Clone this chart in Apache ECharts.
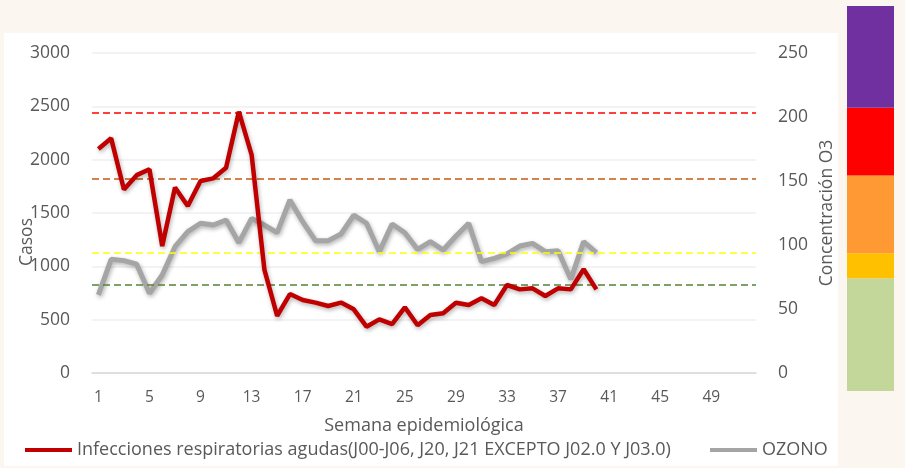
<!DOCTYPE html>
<html>
<head>
<meta charset="utf-8">
<script src="https://cdn.jsdelivr.net/npm/echarts@6/dist/echarts.min.js"></script>
<style>
html,body{margin:0;padding:0;background:#fbf7f0;}
#c{width:905px;height:468px;}
</style>
</head>
<body>
<div id="c"></div>
<script>
// ---- data ----
var weekLabels = ['1','2','3','4','5','6','7','8','9','10','11','12','13','14','15','16','17','18','19','20','21','22','23','24','25','26','27','28','29','30','31','32','33','34','35','36','37','38','39','40','41','42','43','44','45','46','47','48','49','50','51','52'];
var iraName = 'Infecciones respiratorias agudas(J00-J06, J20, J21 EXCEPTO J02.0 Y J03.0)';
var ozoneName = 'OZONO';
var iraCases = [2100, 2200, 1720, 1855, 1910, 1190, 1740, 1565, 1800, 1825, 1925, 2450, 2045, 970, 535, 740, 685, 660, 628, 660, 597, 434, 503, 459, 616, 447, 544, 560, 659, 637, 700, 637, 825, 784, 794, 722, 794, 784, 972, 784];
var ozone = [61, 88.8, 87.8, 85, 62.3, 76.6, 98.7, 110.4, 117, 115.6, 119.5, 101.8, 120.8, 115.6, 109.6, 135.2, 118.2, 103.4, 103.4, 108.6, 123.4, 117, 94.8, 116.4, 109.6, 96.5, 102.6, 96.1, 107, 117, 87, 89.6, 93, 99.2, 101.3, 94.8, 95.5, 73.2, 102.6, 94];
var thresholds = [69, 94, 152, 203];
var thresholdColors = ['#548235', '#ffff00', '#c55a11', '#ff0000'];
var leftTicks = {min: 0, max: 3000, interval: 500};
var rightTicks = {min: 0, max: 250, interval: 50};
var bandNames = ['verde', 'amarillo', 'naranja', 'rojo', 'morado'];
var bandSizes = [113, 25, 78, 68, 102];
var bandColors = ['#c4d79b', '#ffc000', '#ff9933', '#ff0000', '#7030a0'];

var FONT = 'Open Sans';
var TXT = '#595959';

var chart = echarts.init(document.getElementById('c'), null, {renderer: 'canvas'});

var markData = thresholds.map(function (v, i) {
  return {yAxis: v, lineStyle: {color: thresholdColors[i], type: [7, 4], width: 1.5}};
});

var bandSeries = bandSizes.map(function (v, i) {
  return {
    name: bandNames[i], type: 'bar', stack: 'band', xAxisIndex: 1, yAxisIndex: 2,
    data: [v], barWidth: '100%', itemStyle: {color: bandColors[i]}, silent: true
  };
});

function plain(v) { return String(v); }

var option = {
  backgroundColor: '#fbf7f0',
  animation: false,
  textStyle: {fontFamily: FONT},
  graphic: [{
    type: 'rect', z: -10, silent: true,
    shape: {x: 4, y: 33, width: 834, height: 433},
    style: {fill: '#ffffff'}
  }],
  grid: [
    {left: 92, right: 149, top: 53, bottom: 95},
    {left: 847, width: 47, top: 6, height: 385}
  ],
  legend: [
    {
      data: [iraName], left: 25, top: 441, padding: 0, itemWidth: 47, itemHeight: 4,
      icon: 'rect', textStyle: {color: TXT, fontSize: 18, fontFamily: FONT}
    },
    {
      data: [ozoneName], left: 710, top: 441, padding: 0, itemWidth: 47, itemHeight: 4,
      icon: 'rect', textStyle: {color: TXT, fontSize: 18, fontFamily: FONT}
    }
  ],
  xAxis: [
    {
      type: 'category', data: weekLabels, gridIndex: 0, boundaryGap: true,
      axisTick: {show: false},
      axisLine: {lineStyle: {color: '#d9d9d9', width: 1.5}},
      axisLabel: {interval: 3, color: TXT, fontSize: 15.5, margin: 17},
      name: 'Semana epidemiológica', nameLocation: 'middle', nameGap: 44,
      nameTextStyle: {color: TXT, fontSize: 18}
    },
    {type: 'category', data: ['escala'], gridIndex: 1, show: false}
  ],
  yAxis: [
    {
      type: 'value', gridIndex: 0, min: leftTicks.min, max: leftTicks.max, interval: leftTicks.interval,
      axisLine: {show: false}, axisTick: {show: false},
      axisLabel: {color: TXT, fontSize: 17.5, margin: 22, formatter: plain},
      splitLine: {lineStyle: {color: '#efefef', width: 1.5}},
      name: 'Casos', nameLocation: 'middle', nameGap: 56, nameMoveOverlap: false,
      nameTextStyle: {color: TXT, fontSize: 17.5, padding: [0, 58, 0, 0]}
    },
    {
      type: 'value', gridIndex: 0, min: rightTicks.min, max: rightTicks.max, interval: rightTicks.interval,
      position: 'right',
      axisLine: {show: false}, axisTick: {show: false},
      axisLabel: {color: TXT, fontSize: 17.5, margin: 22, formatter: plain},
      splitLine: {show: false},
      name: 'Concentración O3', nameLocation: 'middle', nameGap: 62, nameMoveOverlap: false,
      nameTextStyle: {color: TXT, fontSize: 17.5}
    },
    {type: 'value', gridIndex: 1, show: false, min: 0, max: bandSizes.reduce(function (a, b) { return a + b; }, 0)}
  ],
  series: [
    {
      name: ozoneName, type: 'line', xAxisIndex: 0, yAxisIndex: 1, data: ozone,
      showSymbol: false, symbol: 'none', color: '#a5a5a5',
      lineStyle: {color: '#a5a5a5', width: 5, shadowColor: 'rgba(0,0,0,0.3)', shadowBlur: 4, shadowOffsetY: 2, shadowOffsetX: 1},
      markLine: {silent: true, symbol: 'none', label: {show: false}, data: markData}
    },
    {
      name: iraName, type: 'line', xAxisIndex: 0, yAxisIndex: 0, data: iraCases,
      showSymbol: false, symbol: 'none', color: '#c00000', z: 5,
      lineStyle: {color: '#c00000', width: 4.5, shadowColor: 'rgba(0,0,0,0.3)', shadowBlur: 4, shadowOffsetY: 2, shadowOffsetX: 1}
    }
  ].concat(bandSeries)
};
chart.setOption(option);
</script>
</body>
</html>
